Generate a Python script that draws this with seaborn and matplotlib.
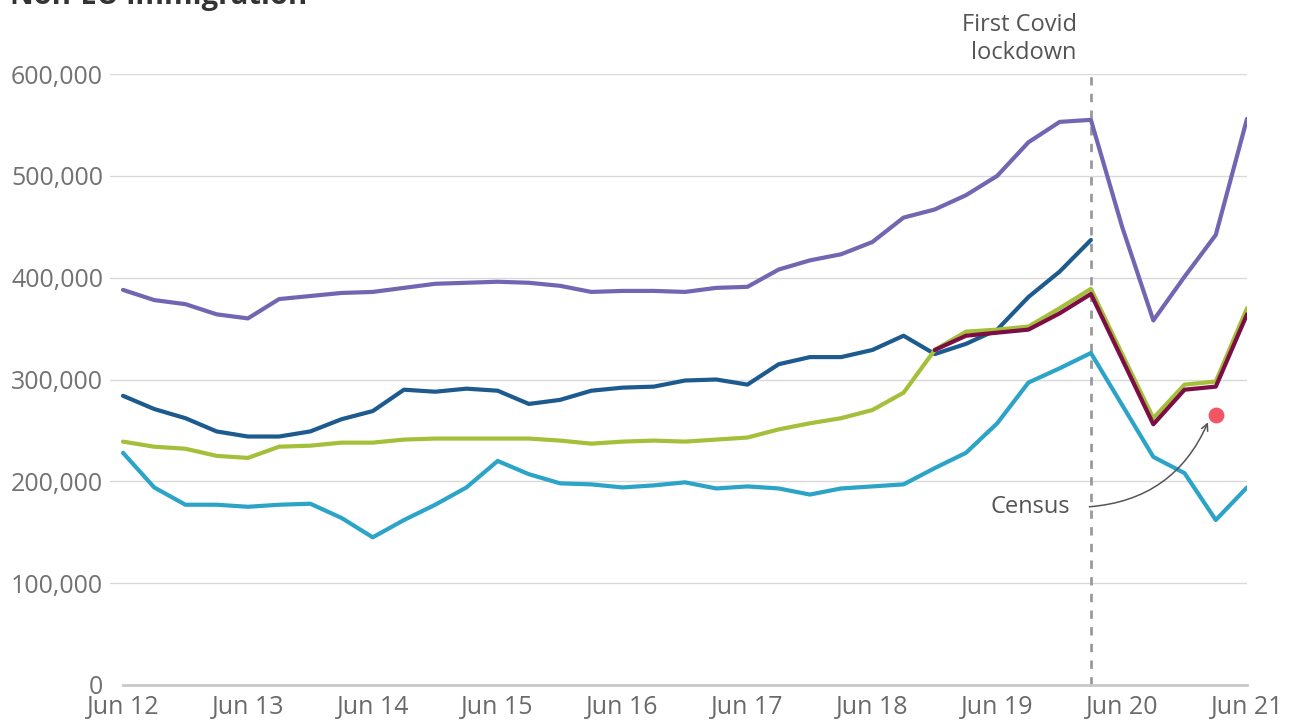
import numpy as np
import pandas as pd
import matplotlib
matplotlib.use("Agg")
import matplotlib.pyplot as plt
import seaborn as sns

# quarterly points, Jun 12 .. Jun 21 (37 quarters)
quarters = np.arange(37)
tick_labels = ["Jun 12", "Jun 13", "Jun 14", "Jun 15", "Jun 16",
               "Jun 17", "Jun 18", "Jun 19", "Jun 20", "Jun 21"]

top_series = [388, 378, 374, 364, 360, 379, 382, 385, 386, 390, 394, 395, 396,
              395, 392, 386, 387, 387, 386, 390, 391, 408, 417, 423, 435, 459,
              467, 481, 500, 533, 553, 555, 450, 358, 401, 442, 556]
navy_series = [284, 271, 262, 249, 244, 244, 249, 261, 269, 290, 288, 291, 289,
               276, 280, 289, 292, 293, 299, 300, 295, 315, 322, 322, 329, 343,
               325, 335, 349, 381, 406, 437] + [None] * 5
green_series = [239, 234, 232, 225, 223, 234, 235, 238, 238, 241, 242, 242, 242,
                242, 240, 237, 239, 240, 239, 241, 243, 251, 257, 262, 270, 287,
                329, 347, 349, 352, 370, 389, 325, 262, 295, 298, 370]
maroon_series = [None] * 26 + [329, 343, 346, 349, 365, 384, 320, 256, 290,
                               293, 364]
cyan_series = [228, 194, 177, 177, 175, 177, 178, 164, 145, 162, 177, 194, 220,
               207, 198, 197, 194, 196, 199, 193, 195, 193, 187, 193, 195, 197,
               213, 228, 257, 297, 311, 326, 275, 224, 208, 162, 194]

census_x = 35
census_value = 265
lockdown_x = 31

names = ["top", "navy", "cyan", "green", "maroon"]
colors = ["#7465b3", "#1d5a8e", "#2ba4c8", "#a4bf3a", "#7d0d45"]
values = [top_series, navy_series, cyan_series, green_series, maroon_series]

frames = []
for name, vals in zip(names, values):
    frames.append(pd.DataFrame({"quarter": quarters,
                                "value": pd.to_numeric(pd.Series(vals)) * 1000,
                                "series": name}))
df = pd.concat(frames).dropna()

sns.set_theme(style="white")
plt.rcParams["font.family"] = ["Open Sans", "DejaVu Sans"]

fig = plt.figure(figsize=(12.89, 7.23), dpi=100)
ax = fig.add_axes([110 / 1289, 0.0526, (1247 - 110) / 1289, 0.845])

sns.lineplot(data=df, x="quarter", y="value", hue="series", hue_order=names,
             palette=colors, linewidth=3, legend=False, ax=ax,
             estimator=None, sort=True)

ax.set_xlim(-0.416, 36)
ax.set_ylim(0, 600000)

ax.set_yticks(np.arange(0, 600001, 100000))
ax.set_yticklabels(["0"] + [f"{v:,}" for v in range(100000, 600001, 100000)])
ax.set_xticks(np.arange(0, 37, 4))
ax.set_xticklabels(tick_labels)

for v in range(100000, 600001, 100000):
    ax.axhline(v, color="#d9d9d9", lw=1, zorder=0)

for s in ["top", "right", "left"]:
    ax.spines[s].set_visible(False)
ax.spines["bottom"].set_color("#c8c8c8")
ax.spines["bottom"].set_linewidth(2)
ax.spines["bottom"].set_bounds(0, 36)

ax.tick_params(axis="y", length=4, width=1, color="#d0d0d0", pad=1,
               labelsize=18, labelcolor="#727272")
ax.tick_params(axis="x", length=6, width=1, color="#d0d0d0", pad=1,
               labelsize=18, labelcolor="#6a6a6a", direction="out")
ax.set_xlabel("")
ax.set_ylabel("")

# lockdown marker
ax.plot([lockdown_x, lockdown_x], [0, 603000], color="#9a9a9a", lw=2,
        dashes=(3, 3), clip_on=False, zorder=1)
ax.text(30.55, 609000, "First Covid\nlockdown", ha="right", va="bottom",
        multialignment="right", fontsize=17, color="#555555",
        linespacing=1.19, clip_on=False)

# census point
ax.scatter([census_x], [census_value * 1000], s=130, color="#f25563",
           zorder=5, linewidths=0)
ax.text(30.35, 175000, "Census", ha="right", va="center", fontsize=17,
        color="#555555")
ax.annotate("", xy=(34.75, 258000), xytext=(30.95, 175000),
            arrowprops=dict(arrowstyle="->", color="#555555", lw=1.1,
                            connectionstyle="arc3,rad=0.3",
                            shrinkA=0, shrinkB=0))

fig.text(0.008, 0.995, "Non-EU immigration", ha="left", va="baseline",
         fontsize=21, fontweight="bold", color="#333333")

fig.savefig("out.png", dpi=100, facecolor="white")
